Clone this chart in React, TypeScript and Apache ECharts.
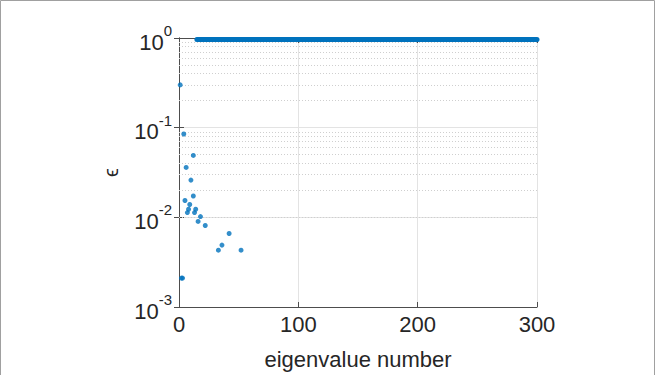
import React, { useEffect, useRef } from "react";
import * as echarts from "echarts";

// scattered eigenvalue errors [eigenvalue number, epsilon]
const pointIndex = [1, 2, 3, 4, 5, 6, 7, 8, 9, 10, 12, 12, 13, 14, 16, 18, 22, 33, 36, 42, 52];
const pointValue = [0.30, 0.0021, 0.0021, 0.085, 0.0154, 0.036, 0.0113, 0.0123, 0.0139, 0.026, 0.049, 0.0173, 0.0113, 0.0123, 0.0090, 0.0102, 0.0081, 0.0043, 0.0049, 0.0066, 0.0043];
// dense run of eigenvalues sitting at epsilon ~ 1
const plateauStart = 15;
const plateauEnd = 300;
const plateauValue = 0.96;
// axis ranges and minor gridlines
const xTicks = [0, 100, 200, 300];
const yMin = 0.001;
const yMax = 1;
const minorGrid = [
  0.002, 0.003, 0.004, 0.005, 0.006, 0.007, 0.008, 0.009,
  0.02, 0.03, 0.04, 0.05, 0.06, 0.07, 0.08, 0.09,
  0.2, 0.3, 0.4, 0.5, 0.6, 0.7, 0.8, 0.9,
];

const BLUE = "#0072BD";
const TEXT = "#262626";
const FONT = "Liberation Sans, Arial, sans-serif";

export default function App() {
  const ref = useRef<HTMLDivElement>(null);
  useEffect(() => {
    const chart = echarts.init(ref.current!, undefined, { renderer: "svg" });
    const scatterData = pointIndex.map((x, i) => [x, pointValue[i]]);
    const axisLine = { show: true, lineStyle: { color: "#4d4d4d", width: 1 } };
    chart.setOption({
      animation: false,
      backgroundColor: "#ffffff",
      textStyle: { fontFamily: FONT },
      graphic: [
        {
          type: "rect",
          shape: { x: 0.5, y: 0.5, width: 654, height: 390 },
          style: { fill: "none", stroke: "#a0a0a0", lineWidth: 1 },
          silent: true,
        },
      ],
      grid: { left: 179, right: 118, top: 38, bottom: 68 },
      xAxis: [
        {
          type: "value",
          min: xTicks[0],
          max: xTicks[xTicks.length - 1],
          interval: 100,
          name: "eigenvalue number",
          nameLocation: "middle",
          nameGap: 41,
          nameTextStyle: { fontSize: 22, color: TEXT, fontFamily: FONT },
          axisLine,
          axisTick: { show: true, inside: true, length: 5, lineStyle: { color: "#4d4d4d" } },
          axisLabel: { fontSize: 22, color: TEXT, margin: 6, fontFamily: FONT },
          splitLine: { show: true, lineStyle: { color: "#e3e3e3", width: 1 } },
        },
        {
          type: "value",
          position: "top",
          min: xTicks[0],
          max: xTicks[xTicks.length - 1],
          interval: 100,
          axisLine,
          axisTick: { show: true, inside: true, length: 5, lineStyle: { color: "#4d4d4d" } },
          axisLabel: { show: false },
          splitLine: { show: false },
        },
      ],
      yAxis: [
        {
          type: "log",
          logBase: 10,
          min: yMin,
          max: yMax,
          name: "ϵ",
          nameLocation: "middle",
          nameGap: 58,
          nameRotate: 90,
          nameTextStyle: { fontSize: 20, color: TEXT, fontFamily: FONT },
          axisLine,
          axisTick: { show: true, inside: true, length: 5, lineStyle: { color: "#4d4d4d" } },
          axisLabel: {
            margin: 7,
            color: TEXT,
            formatter: (v: number) => `{b|10}{s|${Math.round(Math.log10(v))}}`,
            rich: {
              b: { fontSize: 22, color: TEXT, fontFamily: FONT, lineHeight: 30, verticalAlign: "bottom" },
              s: { fontSize: 15, color: TEXT, fontFamily: FONT, lineHeight: 30, verticalAlign: "top" },
            },
          },
          splitLine: { show: true, lineStyle: { color: "#e3e3e3", width: 1 } },
        },
        {
          type: "log",
          logBase: 10,
          min: yMin,
          max: yMax,
          position: "right",
          axisLine,
          axisTick: { show: true, inside: true, length: 5, lineStyle: { color: "#4d4d4d" } },
          axisLabel: { show: false },
          splitLine: { show: false },
        },
      ],
      series: [
        {
          type: "line",
          xAxisIndex: 0,
          yAxisIndex: 0,
          data: [
            [plateauStart, plateauValue],
            [plateauEnd, plateauValue],
          ],
          symbol: "none",
          lineStyle: { color: BLUE, width: 5, cap: "round" },
          silent: true,
          z: 3,
          markLine: {
            silent: true,
            symbol: "none",
            label: { show: false },
            lineStyle: { color: "#cfcfcf", type: [1, 2], width: 1 },
            data: minorGrid.map((v) => ({ yAxis: v })),
            z: 1,
          },
        },
        {
          type: "scatter",
          xAxisIndex: 0,
          yAxisIndex: 0,
          data: scatterData,
          symbol: "circle",
          symbolSize: 5,
          itemStyle: { color: BLUE },
          z: 4,
        },
      ],
    });
    return () => chart.dispose();
  }, []);
  return (
    <div
      ref={ref}
      style={{ position: "fixed", left: 0, top: 0, width: 655, height: 375 }}
    />
  );
}
